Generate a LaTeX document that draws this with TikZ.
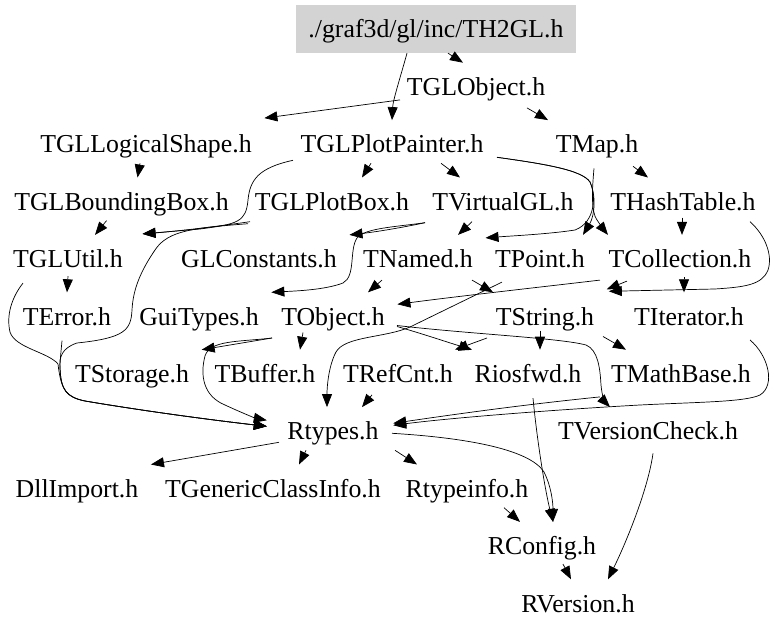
\documentclass[tikz,border=0pt]{standalone}
\usepackage{fontspec}
\setmainfont{Liberation Serif}
\usetikzlibrary{arrows.meta}
\definecolor{rootgray}{RGB}{211,211,211}
\begin{document}
\begin{tikzpicture}[x=1pt,y=-1pt,
hfile/.style={inner xsep=12.5pt,inner ysep=0pt,minimum height=48pt,text height=20pt,text depth=3pt,font=\fontsize{25.8}{30}\selectfont},
inc/.style={-{Triangle[length=13pt,width=10pt]},line width=0.7pt}]
\useasboundingbox (0,0) rectangle (779,631);
\node[hfile,fill=rootgray,minimum width=280pt] (th2gl) at (436,29) {./graf3d/gl/inc/TH2GL.h};
\node[hfile] (tglobject) at (476,86.9) {TGLObject.h};
\node[hfile] (tgllogicalshape) at (146,144.3) {TGLLogicalShape.h};
\node[hfile] (tglplotpainter) at (392,144.3) {TGLPlotPainter.h};
\node[hfile] (tmap) at (597,144.3) {TMap.h};
\node[hfile] (tglboundingbox) at (121.5,201.7) {TGLBoundingBox.h};
\node[hfile] (tglplotbox) at (332,201.7) {TGLPlotBox.h};
\node[hfile] (tvirtualgl) at (503,201.7) {TVirtualGL.h};
\node[hfile] (thashtable) at (683,201.7) {THashTable.h};
\node[hfile] (tglutil) at (68,259.1) {TGLUtil.h};
\node[hfile] (glconstants) at (259,259.1) {GLConstants.h};
\node[hfile] (tnamed) at (418,259.1) {TNamed.h};
\node[hfile] (tpoint) at (540,259.1) {TPoint.h};
\node[hfile] (tcollection) at (680,259.1) {TCollection.h};
\node[hfile] (terror) at (67,316.5) {TError.h};
\node[hfile] (guitypes) at (199,316.5) {GuiTypes.h};
\node[hfile] (tobject) at (333,316.5) {TObject.h};
\node[hfile] (tstring) at (545,316.5) {TString.h};
\node[hfile] (titerator) at (689,316.5) {TIterator.h};
\node[hfile] (tstorage) at (132,373.9) {TStorage.h};
\node[hfile] (tbuffer) at (265,373.9) {TBuffer.h};
\node[hfile] (trefcnt) at (398,373.9) {TRefCnt.h};
\node[hfile] (riosfwd) at (528,373.9) {Riosfwd.h};
\node[hfile] (tmathbase) at (681,373.9) {TMathBase.h};
\node[hfile] (rtypes) at (333,431.3) {Rtypes.h};
\node[hfile] (tversioncheck) at (648,431.3) {TVersionCheck.h};
\node[hfile] (dllimport) at (77,488.7) {DllImport.h};
\node[hfile] (tgenericclassinfo) at (273,488.7) {TGenericClassInfo.h};
\node[hfile] (rtypeinfo) at (467,488.7) {Rtypeinfo.h};
\node[hfile] (rconfig) at (542,546.1) {RConfig.h};
\node[hfile] (rversion) at (578,603.5) {RVersion.h};
\draw[inc] ([shift={(12,0)}]th2gl.south) -- ([shift={(-13,0)}]tglobject.north);
\draw[inc] ([shift={(-29,0)}]th2gl.south) .. controls (401,75) and (393,100) .. (tglplotpainter.north);
\draw[inc] ([shift={(-76,13)}]tglobject.center) -- ([shift={(0,-2)}]tgllogicalshape.north east);
\draw[inc] ([shift={(51,21)}]tglobject.center) -- ([shift={(-49,0)}]tmap.north);
\draw[inc] ([shift={(-6,19)}]tgllogicalshape.center) -- ([shift={(16,0)}]tglboundingbox.north);
\draw[inc] ([shift={(-21,19)}]tglplotpainter.center) -- ([shift={(30,0)}]tglplotbox.north);
\draw[inc] ([shift={(49,19)}]tglplotpainter.center) -- ([shift={(-43,0)}]tvirtualgl.north);
\draw[inc] ([shift={(-99,16)}]tglplotpainter.center) .. controls (258,168) and (250,180) .. (248,200) .. controls (246,222) and (238,224) .. (200,229) -- ([shift={(7,-1)}]tglutil.north east);
\draw[inc] ([shift={(105,13)}]tglplotpainter.center) .. controls (545,164) and (582,170) .. (590,182) .. controls (596,195) and (595,215) .. ([shift={(43,0)}]tpoint.north);
\draw[inc] ([shift={(105,13)}]tglplotpainter.center) .. controls (545,164) and (582,170) .. (590,182) .. controls (596,195) and (596,222) .. (575,230) .. controls (550,234) and (510,236) .. ([shift={(0,3)}]tnamed.north east);
\draw[inc] ([shift={(-3,0)}]tmap.south) .. controls (592,190) and (591,212) .. (597,220) .. controls (601,226) and (604,230) .. ([shift={(-72,0)}]tcollection.north);
\draw[inc] ([shift={(36,22)}]tmap.center) -- ([shift={(-35,0)}]thashtable.north);
\draw[inc] ([shift={(-15,19)}]tglboundingbox.center) -- ([shift={(27,0)}]tglutil.north);
\draw[inc] ([shift={(-82,20)}]tglplotbox.center) .. controls (220,226) and (180,231) .. ([shift={(7,-1)}]tglutil.north east);
\draw[inc] ([shift={(-84,22)}]tglplotbox.center) .. controls (195,228) and (168,230) .. (155,250) .. controls (140,272) and (133,290) .. (132,310) .. controls (131,330) and (125,338) .. (77,343) .. controls (62,348) and (59,357) .. (60,368) .. controls (61,390) and (66,397) .. (85,401) .. controls (150,412) and (220,421) .. ([shift={(-8,-5)}]rtypes.west);
\draw[inc] ([shift={(-78,21)}]tvirtualgl.center) .. controls (400,228) and (375,232) .. (glconstants.north east);
\draw[inc] ([shift={(-78,21)}]tvirtualgl.center) .. controls (395,227) and (365,228) .. (357,238) .. controls (349,250) and (356,276) .. (343,283) .. controls (325,290) and (295,291) .. (guitypes.north east);
\draw[inc] ([shift={(-31,20)}]tvirtualgl.center) -- ([shift={(40,0)}]tnamed.north);
\draw[inc] ([shift={(-1,16)}]thashtable.center) -- ([shift={(2,0)}]tcollection.north);
\draw[inc] ([shift={(67,20)}]thashtable.center) .. controls (765,235) and (773,255) .. (768,270) .. controls (762,285) and (745,287) .. (715,289) -- ([shift={(2,-1)}]tstring.north east);
\draw[inc] ([shift={(0,17)}]tglutil.center) -- (terror.north);
\draw[inc] ([shift={(-45,24)}]tglutil.center) .. controls (12,297) and (6,315) .. (10,332) .. controls (15,348) and (48,352) .. (58,364) .. controls (61,390) and (66,397) .. (85,401) .. controls (150,412) and (220,421) .. ([shift={(-8,-5)}]rtypes.west);
\draw[inc] ([shift={(-36,21)}]tnamed.center) -- ([shift={(35,0)}]tobject.north);
\draw[inc] ([shift={(54,21)}]tnamed.center) -- ([shift={(-52,0)}]tstring.north);
\draw[inc] ([shift={(-38,23)}]tpoint.center) -- (410,327) .. controls (385,338) and (345,336) .. (336,352) .. controls (329,365) and (327,385) .. ([shift={(-6,0)}]rtypes.north);
\draw[inc] ([shift={(-53,22)}]tcollection.center) -- ([shift={(0,-3)}]tstring.north east);
\draw[inc] ([shift={(-80,21)}]tcollection.center) .. controls (550,286) and (460,296) .. ([shift={(0,12)}]tobject.north east);
\draw[inc] ([shift={(4,18)}]tcollection.center) -- ([shift={(-5,0)}]titerator.north);
\draw[inc] ([shift={(-5,0)}]terror.south) .. controls (61,352) and (60,360) .. (60,368) .. controls (61,390) and (66,397) .. (85,401) .. controls (150,412) and (220,421) .. ([shift={(-8,-5)}]rtypes.west);
\draw[inc] ([shift={(-61,21.5)}]tobject.center) -- (tstorage.north east);
\draw[inc] ([shift={(-61,21.5)}]tobject.center) .. controls (238,342) and (210,340) .. (205,356) .. controls (200,375) and (203,396) .. (225,405) .. controls (240,412) and (255,418) .. ([shift={(-8,-11)}]rtypes.west);
\draw[inc] ([shift={(-30,16)}]tobject.center) -- ([shift={(35,0)}]tbuffer.north);
\draw[inc] ([shift={(64,10)}]tobject.center) .. controls (420,333) and (450,343) .. ([shift={(-56,0)}]riosfwd.north);
\draw[inc] ([shift={(64,9)}]tobject.center) .. controls (470,334) and (560,338) .. (586,345) .. controls (598,350) and (600,368) .. (601,385) .. controls (602,396) and (605,402) .. ([shift={(-38,0)}]tversioncheck.north);
\draw[inc] ([shift={(-58,21.5)}]tstring.center) -- ([shift={(57,0)}]trefcnt.north);
\draw[inc] ([shift={(-5,14)}]tstring.center) -- ([shift={(12,0)}]riosfwd.north);
\draw[inc] ([shift={(58,20)}]tstring.center) -- ([shift={(-55,0)}]tmathbase.north);
\draw[inc] ([shift={(61,23.5)}]titerator.center) .. controls (768,355) and (776,385) .. (760,395) .. controls (745,402) and (700,402) .. (640,405) .. controls (550,410) and (450,418) .. ([shift={(2,-6)}]rtypes.east);
\draw[inc] ([shift={(-26,21)}]trefcnt.center) -- ([shift={(29,0)}]rtypes.north);
\draw[inc] ([shift={(5,0)}]riosfwd.south) .. controls (537,440) and (545,490) .. ([shift={(11,0)}]rconfig.north);
\draw[inc] ([shift={(-81,23)}]tmathbase.center) .. controls (520,405) and (450,415) .. ([shift={(2,-8)}]rtypes.east);
\draw[inc] ([shift={(59,2)}]rtypes.center) .. controls (470,438) and (530,450) .. (544,472) .. controls (552,488) and (553,505) .. ([shift={(11,0)}]rconfig.north);
\draw[inc] ([shift={(-54,11)}]rtypes.center) -- (dllimport.north east);
\draw[inc] ([shift={(-27,19)}]rtypes.center) -- ([shift={(26,0)}]tgenericclassinfo.north);
\draw[inc] ([shift={(62,19)}]rtypes.center) -- ([shift={(-50,0)}]rtypeinfo.north);
\draw[inc] ([shift={(5,22)}]tversioncheck.center) .. controls (648,490) and (625,545) .. ([shift={(30,0)}]rversion.north);
\draw[inc] ([shift={(37,19)}]rtypeinfo.center) -- ([shift={(-22,0)}]rconfig.north);
\draw[inc] ([shift={(21,18)}]rconfig.center) -- ([shift={(-7,0)}]rversion.north);
\end{tikzpicture}
\end{document}
